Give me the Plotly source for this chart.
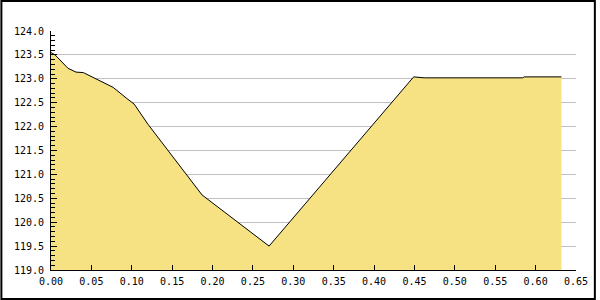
import plotly.graph_objects as go

x_vals = [0.000, 0.005, 0.021, 0.031, 0.040, 0.077, 0.093, 0.103, 0.120,
          0.187, 0.270, 0.449, 0.462, 0.584, 0.586, 0.632]
y_vals = [123.55, 123.50, 123.22, 123.14, 123.13, 122.82, 122.60, 122.47, 122.05,
          120.57, 119.50, 123.04, 123.02, 123.02, 123.04, 123.04]

W, H = 600, 300
ML, MR, MT, MB = 51, 20, 31, 30
pw, ph = W - ML - MR, H - MT - MB

fig = go.Figure()
fig.add_trace(go.Scatter(
    x=x_vals, y=y_vals, mode="lines", fill="tozeroy",
    fillcolor="#F6E283", line=dict(color="#000000", width=1),
    hoverinfo="skip", showlegend=False,
))

font = dict(family="DejaVu Sans Mono", size=10, color="#000000")

fig.update_layout(
    width=W, height=H,
    margin=dict(l=ML, r=MR, t=MT, b=MB, pad=0),
    paper_bgcolor="#FFFFFF", plot_bgcolor="#FFFFFF",
    font=font,
    xaxis=dict(
        range=[0, 0.65], tick0=0, dtick=0.05, tickformat=".2f",
        showgrid=False, zeroline=False,
        showline=True, linecolor="#000000", linewidth=1,
        ticks="inside", ticklen=5, tickcolor="#000000", tickwidth=1,
        ticklabelstandoff=2, tickfont=font,
    ),
    yaxis=dict(
        range=[119, 124], tick0=119, dtick=0.5, tickformat=".1f",
        showgrid=True, gridcolor="#C0C0C0", gridwidth=1, zeroline=False,
        showline=True, linecolor="#000000", linewidth=1,
        ticks="inside", ticklen=6, tickcolor="#000000", tickwidth=1,
        minor=dict(ticks="inside", ticklen=4, dtick=0.1, tickcolor="#000000", showgrid=False),
        ticklabelstandoff=4, tickfont=font,
    ),
    shapes=[dict(
        type="rect", xref="paper", yref="paper",
        x0=(-ML + 1) / pw, x1=(W - ML - 1) / pw,
        y0=(-MB + 1) / ph, y1=(H - MB - 1) / ph,
        line=dict(color="#000000", width=2), fillcolor="rgba(0,0,0,0)",
        layer="above",
    )],
)

fig.write_html("out.html")
